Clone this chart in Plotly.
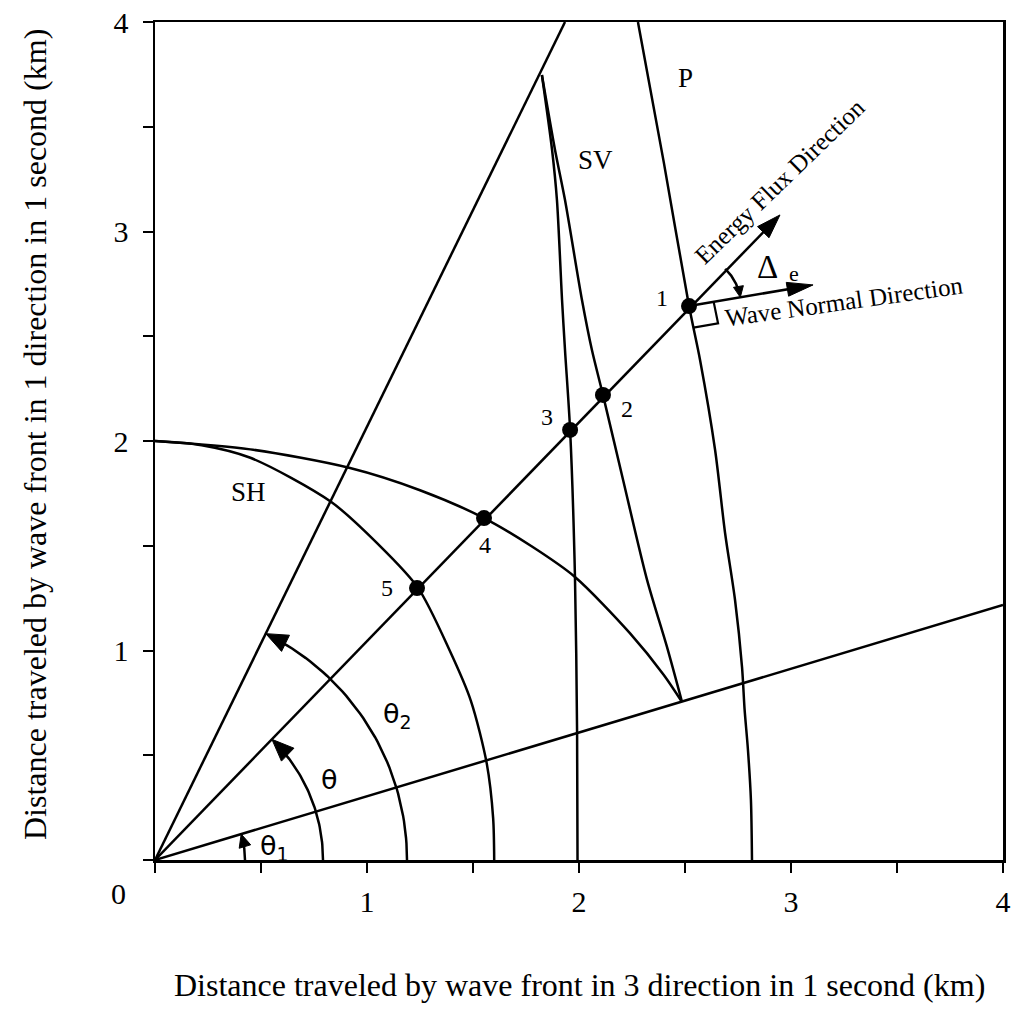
import numpy as np
import plotly.graph_objects as go

# ---------------- data (km travelled in 1 s) ----------------
sh_x = [0.00, 0.22, 0.45, 0.83, 1.05, 1.24, 1.39, 1.49, 1.565, 1.595, 1.60]
sh_y = [2.00, 1.98, 1.92, 1.71, 1.51, 1.30, 1.00, 0.76, 0.46, 0.20, 0.00]

sv_inner_x = [0.00, 0.45, 0.92, 1.25, 1.552, 1.78, 1.981, 2.24, 2.40, 2.486]
sv_inner_y = [2.00, 1.96, 1.871, 1.765, 1.632, 1.495, 1.351, 1.083, 0.883, 0.754]

sv_outer_x = [1.825, 1.887, 1.934, 2.014, 2.061, 2.113, 2.208, 2.321, 2.415, 2.486]
sv_outer_y = [3.747, 3.389, 3.150, 2.673, 2.434, 2.220, 1.814, 1.337, 1.017, 0.754]

sv_left_x = [1.825, 1.873, 1.896, 1.920, 1.934, 1.958, 1.981, 1.991, 1.993]
sv_left_y = [3.747, 3.389, 3.150, 2.673, 2.434, 2.053, 1.351, 0.606, 0.000]

p_x = [2.278, 2.40, 2.519, 2.571, 2.642, 2.689, 2.736, 2.769, 2.781, 2.797, 2.811, 2.816]
p_y = [4.000, 3.33, 2.644, 2.387, 1.957, 1.561, 1.241, 0.921, 0.720, 0.525, 0.286, 0.000]

# ends of the rays from the origin: theta1 ray, theta ray (energy flux tip), theta2 ray
ray_x = [4.000, 2.948, 1.934]
ray_y = [1.217, 3.079, 4.000]

pt_x = [2.519, 2.113, 1.958, 1.552, 1.236]
pt_y = [2.644, 2.220, 2.053, 1.632, 1.298]
pt_labels = ["1", "2", "3", "4", "5"]

normal_tip_x = 3.104
normal_tip_y = 2.745

major_ticks = [1, 2, 3, 4]
major_ticktext = ["1", "2", "3", "4"]
minor_ticks = [0, 0.5, 1.5, 2.5, 3.5]

# ---------------- layout geometry ----------------
W, H = 1013, 1023
ML, MR, MT, MB = 155, 10, 22, 163
PW, PH = W - ML - MR, H - MT - MB
SX = PW / 4.0   # px per km (x)
SY = PH / 4.0   # px per km (y)

BLACK = "black"
LW = 2.5
SERIF = "Liberation Serif"


def paper_x(px):
    return (px - ML) / PW


def paper_y(py):
    return (H - MB - py) / PH


def px_angle(x, y):
    return np.arctan2(y * SY, x * SX)


def arc(r_px, a0, a1, cx=0.0, cy=0.0, n=50):
    a = np.linspace(a0, a1, n)
    return cx + r_px * np.cos(a) / SX, cy + r_px * np.sin(a) / SY


def head(tx, ty, dx, dy, L=16, Hh=6):
    n = np.hypot(dx, dy)
    ux, uy = dx / n, dy / n
    px_, py_ = -uy, ux
    bx, by = -L * ux, -L * uy
    xs = [tx, tx + (bx + Hh * px_) / SX, tx + (bx - Hh * px_) / SX, tx]
    ys = [ty, ty + (by + Hh * py_) / SY, ty + (by - Hh * py_) / SY, ty]
    return xs, ys


fig = go.Figure()


def line(xs, ys, shape="linear", width=LW):
    fig.add_trace(go.Scatter(x=list(xs), y=list(ys), mode="lines",
                             line=dict(color=BLACK, width=width, shape=shape, smoothing=0.8),
                             hoverinfo="skip", showlegend=False))


def tri(xs, ys):
    fig.add_trace(go.Scatter(x=xs, y=ys, mode="lines", fill="toself", fillcolor=BLACK,
                             line=dict(color=BLACK, width=1), hoverinfo="skip", showlegend=False))


# wave surfaces
line(sh_x, sh_y, "spline")
line(sv_inner_x, sv_inner_y, "spline")
line(sv_outer_x, sv_outer_y, "spline")
line(sv_left_x, sv_left_y, "spline")
line(p_x, p_y, "spline")

# rays
line([0, ray_x[0]], [0, ray_y[0]])
line([0, ray_x[2]], [0, ray_y[2]])
# energy flux ray (stop just short of the tip, arrowhead drawn on top)
a_th = px_angle(ray_x[1], ray_y[1])
line([0, ray_x[1] - 12 * np.cos(a_th) / SX], [0, ray_y[1] - 12 * np.sin(a_th) / SY])
tri(*head(ray_x[1], ray_y[1], np.cos(a_th), np.sin(a_th), L=24, Hh=8))

# wave normal arrow
ndx = (normal_tip_x - pt_x[0]) * SX
ndy = (normal_tip_y - pt_y[0]) * SY
nn = np.hypot(ndx, ndy)
line([pt_x[0], normal_tip_x - 12 * ndx / nn / SX], [pt_y[0], normal_tip_y - 12 * ndy / nn / SY])
tri(*head(normal_tip_x, normal_tip_y, ndx, ndy, L=26, Hh=7))

# angle arcs with arrowheads
a1 = px_angle(ray_x[0], ray_y[0])
a2 = px_angle(ray_x[2], ray_y[2])
for r_px, a_end, L, Hh in [(90, a1, 13, 6), (168, a_th, 22, 9), (252, a2, 22, 9)]:
    ax_, ay_ = arc(r_px, 0, a_end - 8 / r_px)
    line(ax_, ay_)
    tx, ty = r_px * np.cos(a_end) / SX, r_px * np.sin(a_end) / SY
    tri(*head(tx, ty, -np.sin(a_end), np.cos(a_end), L=L, Hh=Hh))

# Delta_e arc between energy flux and wave normal directions
a_n = np.arctan2(ndy, ndx)
r_d = 52
dx_, dy_ = arc(r_d, a_th, a_n + 6 / r_d, cx=pt_x[0], cy=pt_y[0])
line(dx_, dy_)
tri(*head(pt_x[0] + r_d * np.cos(a_n) / SX, pt_y[0] + r_d * np.sin(a_n) / SY,
          np.sin(a_n), -np.cos(a_n), L=11, Hh=5))

# right-angle marker between wave normal and P wavefront at point 1
ux, uy = ndx / nn, ndy / nn
pdx = (p_x[3] - p_x[2]) * SX
pdy = (p_y[3] - p_y[2]) * SY
pn = np.hypot(pdx, pdy)
vx, vy = pdx / pn, pdy / pn
s1, s2 = 25, 22
c1 = (pt_x[0] + s1 * ux / SX, pt_y[0] + s1 * uy / SY)
c2 = (c1[0] + s2 * vx / SX, c1[1] + s2 * vy / SY)
c3 = (pt_x[0] + s2 * vx / SX, pt_y[0] + s2 * vy / SY)
line([c1[0], c2[0], c3[0]], [c1[1], c2[1], c3[1]], width=2.2)

# points
fig.add_trace(go.Scatter(x=pt_x, y=pt_y, mode="markers",
                         marker=dict(color=BLACK, size=16, line=dict(width=0)),
                         hoverinfo="skip", showlegend=False))

# ---------------- text ----------------
def txt(x, y, s, size=24, family=SERIF, angle=0, xref="x", yref="y"):
    fig.add_annotation(x=x, y=y, text=s, showarrow=False, xref=xref, yref=yref,
                       textangle=angle, font=dict(family=family, size=size, color=BLACK),
                       xanchor="center", yanchor="middle")


pt_lab_x = [2.392, 2.226, 1.849, 1.557, 1.094]
pt_lab_y = [2.683, 2.153, 2.115, 1.504, 1.298]
for lx, ly, s in zip(pt_lab_x, pt_lab_y, pt_labels):
    txt(lx, ly, s, size=24)

txt(2.50, 3.733, "P", size=27)
txt(2.08, 3.341, "SV", size=27)
txt(0.439, 1.757, "SH", size=27)
txt(1.146, 0.692, "θ<sub>2</sub>", size=27, family="DejaVu Sans")
txt(0.825, 0.382, "θ", size=27, family="DejaVu Sans")
txt(0.566, 0.062, "θ<sub>1</sub>", size=27, family="DejaVu Sans")
txt(2.887, 2.831, "Δ", size=33)
txt(3.015, 2.800, "e", size=22)
txt(2.945, 3.240, "Energy Flux Direction", size=25, angle=-44)
txt(3.250, 2.668, "Wave Normal Direction", size=25, angle=-8)

# corner zero, axis titles
txt(paper_x(118), paper_y(893), "0", size=30, xref="paper", yref="paper")
txt(paper_x(579), paper_y(985),
    "Distance traveled by wave front in 3 direction in 1 second (km)", size=32,
    xref="paper", yref="paper")
txt(paper_x(35), paper_y(435),
    "Distance traveled by wave front in 1 direction in 1 second (km)", size=32,
    angle=-90, xref="paper", yref="paper")

axis_common = dict(range=[0, 4], showgrid=False, zeroline=False, showline=True,
                   linecolor=BLACK, linewidth=LW, mirror=True, ticks="outside",
                   ticklen=10, tickwidth=2, tickcolor=BLACK, automargin=False,
                   ticklabeloverflow="allow",
                   tickvals=major_ticks, ticktext=major_ticktext,
                   minor=dict(tickvals=minor_ticks, ticks="outside", ticklen=10,
                              tickwidth=2, tickcolor=BLACK, showgrid=False),
                   tickfont=dict(family=SERIF, size=30, color=BLACK), fixedrange=True)

fig.update_layout(
    width=W, height=H,
    margin=dict(l=ML, r=MR, t=MT, b=MB, pad=0, autoexpand=False),
    paper_bgcolor="white", plot_bgcolor="white",
    showlegend=False,
    xaxis=dict(ticklabelstandoff=3, **axis_common),
    yaxis=dict(ticklabelstandoff=8, **axis_common),
)

fig.write_html("out.html",
               config={"displayModeBar": False, "staticPlot": True},
               post_script="document.body.style.margin='0px';document.body.style.overflow='hidden';")
